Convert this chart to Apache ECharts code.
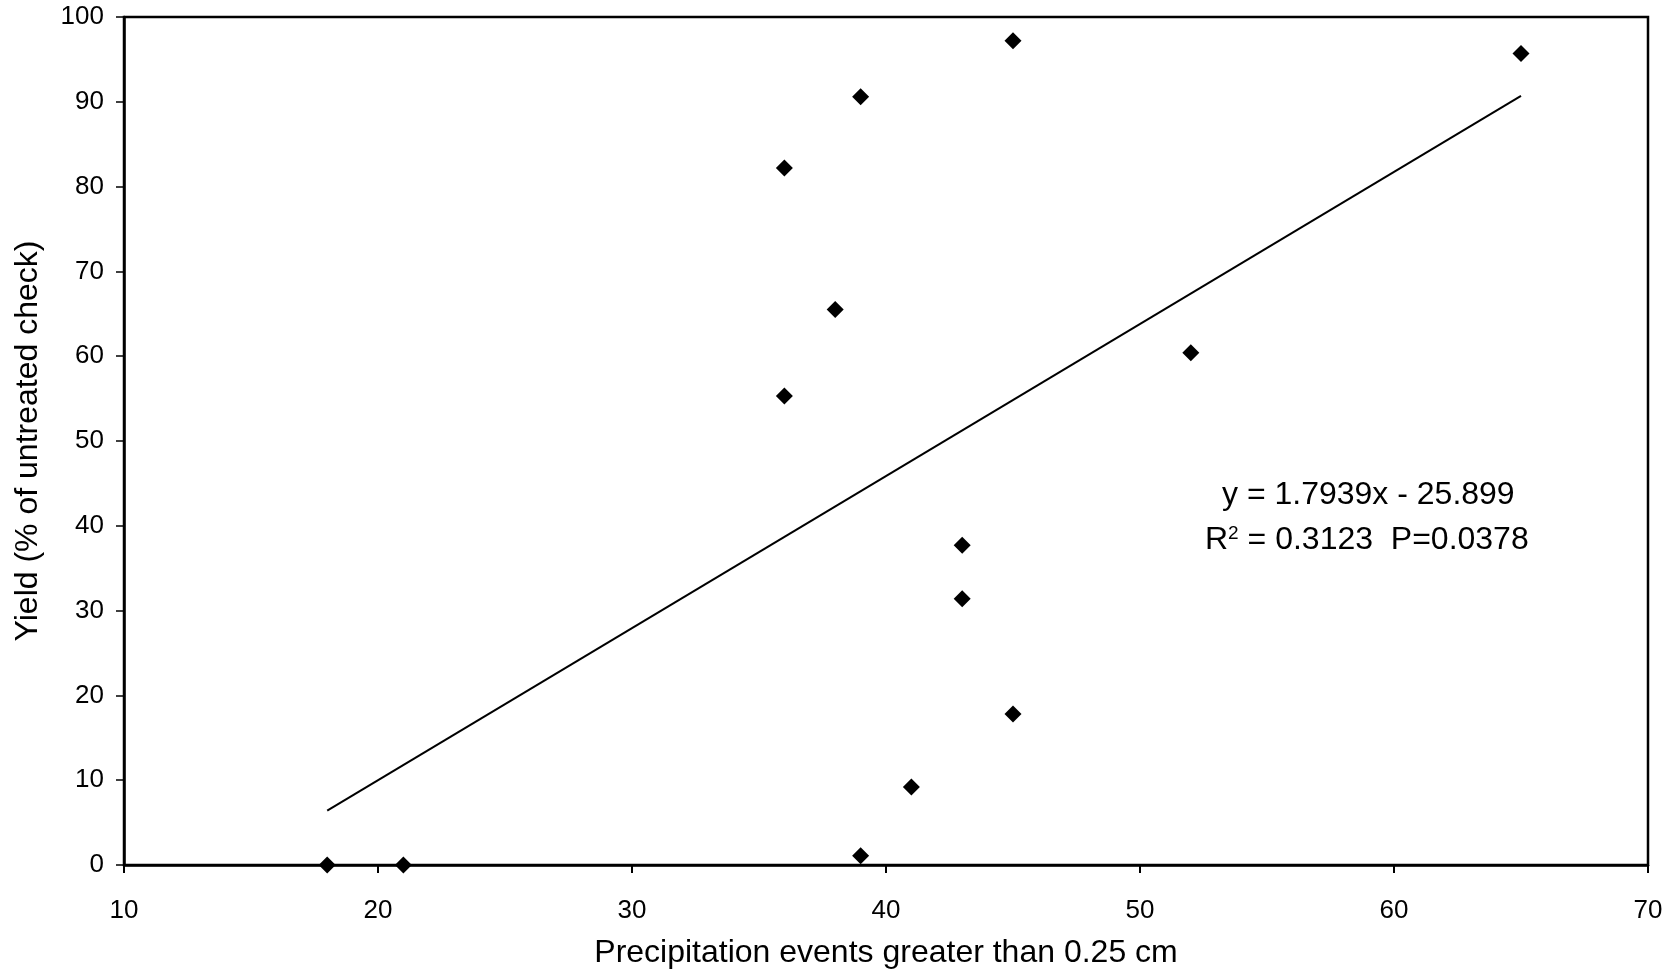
<!DOCTYPE html>
<html>
<head>
<meta charset="utf-8">
<script src="https://cdn.jsdelivr.net/npm/echarts@6/dist/echarts.min.js"></script>
<style>html,body{margin:0;padding:0;background:#fff;}#chart{width:1669px;height:972px;}</style>
</head>
<body>
<div id="chart"></div>
<script>
// Precipitation events (> 0.25 cm) and yield (% of untreated check)
const precipEvents = [18, 21, 36, 36, 38, 39, 39, 41, 43, 43, 45, 45, 52, 65];
const yieldPct     = [0, 0, 82.2, 55.3, 65.5, 90.6, 1.1, 9.2, 37.7, 31.4, 97.2, 17.8, 60.4, 95.7];
// Trend line end points (as drawn)
const trendX = [18, 65];
const trendY = [6.4, 90.7];
const equationText = 'y = 1.7939x - 25.899';
const statsText = ['R', '2', ' = 0.3123  P=0.0378'];
const xAxisTitle = 'Precipitation events greater than 0.25 cm';
const yAxisTitle = 'Yield (% of untreated check)';

const FONT = '"Liberation Sans", Arial, sans-serif';
const chart = echarts.init(document.getElementById('chart'), null, {renderer: 'canvas'});
const points = precipEvents.map((x, i) => [x, yieldPct[i]]);
const trend = trendX.map((x, i) => [x, trendY[i]]);

chart.setOption({
  backgroundColor: '#fff',
  animation: false,
  grid: {left: 124, right: 21, top: 17, bottom: 107, outerBoundsMode: 'none', containLabel: false,
         show: true, borderColor: '#000', borderWidth: 2.5, backgroundColor: 'transparent'},
  xAxis: {
    type: 'value', min: 10, max: 70, interval: 10,
    name: xAxisTitle, nameLocation: 'middle', nameGap: 72,
    nameTextStyle: {fontFamily: FONT, fontSize: 32, color: '#000'},
    axisLine: {show: true, onZero: false, lineStyle: {color: '#000', width: 2.5}},
    axisTick: {show: true, inside: false, length: 8, lineStyle: {color: '#000', width: 2}},
    axisLabel: {fontFamily: FONT, fontSize: 26, color: '#000', margin: 33},
    splitLine: {show: false}
  },
  yAxis: {
    type: 'value', min: 0, max: 100, interval: 10,
    name: yAxisTitle, nameLocation: 'middle', nameGap: 80,
    nameTextStyle: {fontFamily: FONT, fontSize: 32, color: '#000'},
    axisLine: {show: true, onZero: false, lineStyle: {color: '#000', width: 2.5}},
    axisTick: {show: true, inside: false, length: 8, lineStyle: {color: '#000', width: 1.5}},
    axisLabel: {fontFamily: FONT, fontSize: 26, color: '#000', margin: 20},
    splitLine: {show: false}
  },
  graphic: [
    {type: 'text', left: 1222, top: 479, style: {text: equationText, font: '32px ' + FONT, fill: '#000'}},
    {type: 'text', left: 1205, top: 524, style: {
      text: '{r|' + statsText[0] + '}{s|' + statsText[1] + '}{r|' + statsText[2] + '}',
      rich: {
        r: {fontFamily: FONT, fontSize: 32, fill: '#000', color: '#000'},
        s: {fontFamily: FONT, fontSize: 19, fill: '#000', color: '#000', verticalAlign: 'top', padding: [0, 0, 14, 0]}
      }
    }}
  ],
  series: [
    {type: 'line', data: trend, showSymbol: false, symbol: 'none', lineStyle: {color: '#000', width: 2}, silent: true, z: 2},
    {type: 'scatter', data: points, symbol: 'diamond', symbolSize: 17, itemStyle: {color: '#000', opacity: 1}, z: 3}
  ]
});
</script>
</body>
</html>
